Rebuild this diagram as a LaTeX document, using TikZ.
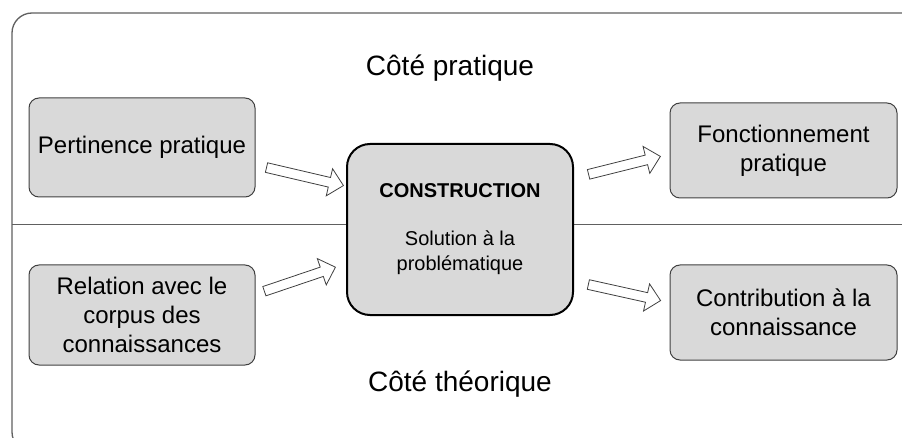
\documentclass[tikz,border=0pt]{standalone}
\usepackage{fontspec}
\setmainfont{Liberation Sans}
\usetikzlibrary{shapes.arrows}
\definecolor{boxfill}{HTML}{D9D9D9}
\definecolor{boxline}{HTML}{404040}
\definecolor{frameline}{HTML}{606060}
\tikzset{
  sidebox/.style={draw=boxline, line width=1pt, fill=boxfill, rounded corners=10pt,
    minimum width=226pt, inner sep=0pt, align=center,
    font=\fontsize{24}{29}\selectfont},
  centerbox/.style={draw=black, line width=2pt, fill=boxfill, rounded corners=23pt,
    minimum width=226pt, minimum height=171pt, inner sep=0pt, align=center,
    font=\fontsize{20}{25}\selectfont},
  sidelabel/.style={font=\fontsize{28}{34}\selectfont, inner sep=0pt},
  blockarrow/.style={sloped, shape=single arrow, draw=boxline, fill=white, line width=0.8pt,
    inner xsep=0pt, inner ysep=4.5pt, single arrow head extend=9pt,
    single arrow tip angle=88},
}
\begin{document}
\begin{tikzpicture}[x=1pt,y=1pt]
\useasboundingbox (0,0) rectangle (902,-438);
\begin{scope}
  \clip (0,0) rectangle (902,-438);
  \draw[frameline, line width=1.3pt, rounded corners=20pt] (12,-13) rectangle (922,-452);
\end{scope}
\coordinate (divL) at (12,-225);
\coordinate (divR) at (902,-225);
\draw[frameline, line width=1pt] (divL) -- (divR);

\node[sidelabel] (top) at (450,-68) {Côté pratique};
\node[sidelabel] (bot) at (460,-384) {Côté théorique};

\node[sidebox, minimum height=99pt] (p1) at (142,-147.5) {Pertinence pratique};
\node[sidebox, minimum height=100pt] (p2) at (142,-315) {Relation avec le\\corpus des\\connaissances};
\node[centerbox] (c) at (460,-229.5) {\textbf{CONSTRUCTION}\\[23pt]Solution à la\\problématique};
\node[sidebox, minimum width=227pt, minimum height=95pt] (r1) at (783.5,-150.5) {Fonctionnement\\pratique};
\node[sidebox, minimum width=227pt, minimum height=95pt] (r2) at (783.5,-312.5) {Contribution à la\\connaissance};

\coordinate (a1s) at (264,-167);
\coordinate (a1e) at (341,-185);
\coordinate (a2s) at (262,-292);
\coordinate (a2e) at (333,-268);
\coordinate (a3s) at (586,-175);
\coordinate (a3e) at (658,-157);
\coordinate (a4s) at (586,-284);
\coordinate (a4e) at (658,-300);

\path (a1s) -- node[blockarrow, minimum height=79pt] (ar1) {} (a1e);
\path (a2s) -- node[blockarrow, minimum height=75pt] (ar2) {} (a2e);
\path (a3s) -- node[blockarrow, minimum height=74pt] (ar3) {} (a3e);
\path (a4s) -- node[blockarrow, minimum height=74pt] (ar4) {} (a4e);
\end{tikzpicture}
\end{document}
